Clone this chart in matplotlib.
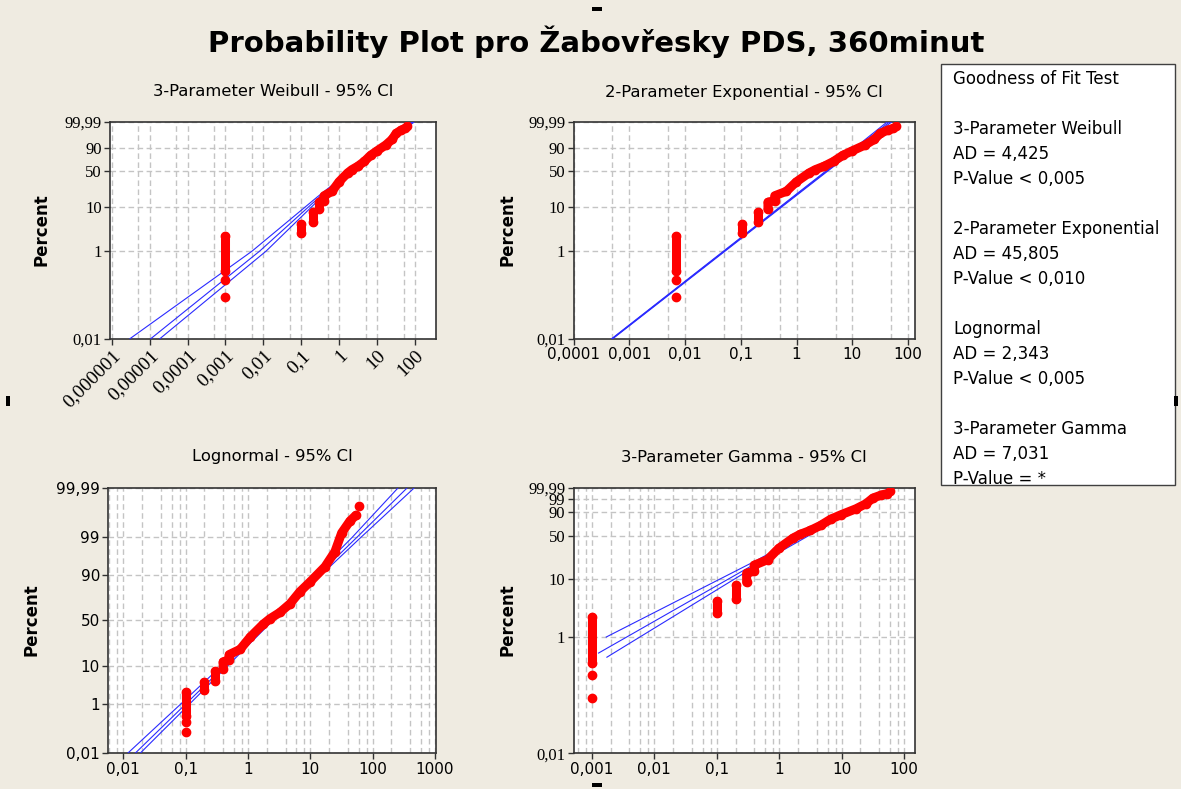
import math
import numpy as np
import matplotlib
matplotlib.use("Agg")
import matplotlib.pyplot as plt
from matplotlib.patches import Rectangle

obs_value = [0.1, 0.1, 0.1, 0.1, 0.2, 0.2, 0.3, 0.3, 0.4, 0.4, 0.5, 0.5, 0.75, 1.08,
             1.76, 2.25, 3.26, 4.72, 6.8, 9.9, 17.2, 24.8, 31.8, 43.0, 53.8, 60.3]
obs_pct = [0.09, 0.22, 0.36, 2.2, 2.6, 4.2, 4.5, 7.8, 8.7, 12.4, 13.5, 17, 21, 32,
           46, 52, 59, 68, 79, 86, 93.4, 97.3, 99.29, 99.73, 99.84, 99.936]
obs_run = [0, 1, 2, 2, 3, 3, 4, 4, 5, 5, 5, 5, 5, 5,
           5, 5, 5, 5, 5, 5, 5, 5, 5, 5, 5, 6]

# thresholds of the 3-/2-parameter fits, gamma shape
thr_weibull = 0.099
thr_expo = 0.093
thr_gamma = 0.099
gamma_shape = 0.58

# fitted lines and 95% CI: log10(x) at given percents
wb_pct = [0.01, 1, 16, 99.99]
wb_fit = [-4.97, -2.10, -0.52, 1.955]
wb_lo = [-5.52, -2.30, -0.58, 1.93]
wb_hi = [-4.73, -1.93, -0.46, 1.985]

ex_pct = [0.01, 50, 99.99]
ex_fit = [-3.305, 0.548, 1.672]
ex_lo = [-3.315, 0.53, 1.63]
ex_hi = [-3.295, 0.565, 1.71]

ln_pct = [0.01, 1, 50, 99, 99.99]
ln_fit = [-1.81, -0.991, 0.377, 1.745, 2.556]
ln_lo = [-1.93, -1.07, 0.35, 1.67, 2.41]
ln_hi = [-1.73, -0.93, 0.40, 1.81, 2.67]

gm_fit_pct = [0.53, 20, 99.99]
gm_fit = [-2.894, -0.305, 1.803]
gm_hi_pct = [1.0, 20.5, 99.99]
gm_hi = [-2.771, -0.36, 1.78]
gm_lo_pct = [0.45, 19.5, 99.99]
gm_lo = [-2.76, -0.26, 1.83]

gof_names = ["3-Parameter Weibull", "2-Parameter Exponential", "Lognormal", "3-Parameter Gamma"]
gof_ad = ["4,425", "45,805", "2,343", "7,031"]
gof_p = ["< 0,005", "< 0,010", "< 0,005", "= *"]

BG = "#EFEBE1"
RED = "#FF0000"
BLUE = "#2a2aff"
GRID = "#c4c4c4"


# ---- probability scales ----
def weibull_fwd(p):
    q = np.clip(np.asarray(p, float) / 100.0, 1e-12, 1 - 1e-12)
    return np.log10(-np.log1p(-q))


def weibull_inv(t):
    t = np.clip(np.asarray(t, float), -30, 3)
    return 100.0 * -np.expm1(-np.power(10.0, t))


_A = [-3.969683028665376e+01, 2.209460984245205e+02, -2.759285104469687e+02,
      1.383577518672690e+02, -3.066479806614716e+01, 2.506628277459239e+00]
_B = [-5.447609879822406e+01, 1.615858368580409e+02, -1.556989798598866e+02,
      6.680131188771972e+01, -1.328068155288572e+01]
_C = [-7.784894002430293e-03, -3.223964580411365e-01, -2.400758277161838e+00,
      -2.549732539343734e+00, 4.374664141464968e+00, 2.938163982698783e+00]
_D = [7.784695709041462e-03, 3.224671290700398e-01, 2.445134137142996e+00,
      3.754408661907416e+00]


def _tail(q):
    num = ((((_C[0] * q + _C[1]) * q + _C[2]) * q + _C[3]) * q + _C[4]) * q + _C[5]
    den = (((_D[0] * q + _D[1]) * q + _D[2]) * q + _D[3]) * q + 1
    return num / den


def normal_fwd(p):
    q = np.clip(np.asarray(p, float) / 100.0, 1e-12, 1 - 1e-12)
    r0 = q - 0.5
    r = r0 * r0
    mid = (((((_A[0] * r + _A[1]) * r + _A[2]) * r + _A[3]) * r + _A[4]) * r + _A[5]) * r0 / \
          (((((_B[0] * r + _B[1]) * r + _B[2]) * r + _B[3]) * r + _B[4]) * r + 1)
    low = _tail(np.sqrt(-2 * np.log(q)))
    high = -_tail(np.sqrt(-2 * np.log1p(-q)))
    return np.where(q < 0.02425, low, np.where(q > 1 - 0.02425, high, mid))


_erfc = np.vectorize(math.erfc, otypes=[float])


def normal_inv(z):
    z = np.clip(np.asarray(z, float), -40, 40)
    return 100.0 * 0.5 * _erfc(-z / math.sqrt(2))


def gamma_p(a, lnx):
    x = np.exp(lnx)
    term = np.full_like(x, 1.0 / a)
    total = term.copy()
    for n in range(1, 260):
        term = term * x / (a + n)
        total = total + term
    return np.exp(a * lnx - x - math.lgamma(a)) * total


_glnx = np.linspace(np.log(1e-40), np.log(40.0), 6000)
_gp = gamma_p(gamma_shape, _glnx)


def gamma_fwd(p):
    q = np.clip(np.asarray(p, float) / 100.0, 1e-15, 1 - 1e-9)
    return np.interp(q, _gp, _glnx) / np.log(10)


def gamma_inv(y):
    y = np.clip(np.asarray(y, float), -39, 1.5)
    return 100.0 * gamma_p(gamma_shape, y * np.log(10))


def fmt(v):
    return np.format_float_positional(v, trim="-").replace(".", ",")


W, H = 1181, 789
fig = plt.figure(figsize=(W / 100, H / 100), dpi=100, facecolor=BG)


def make_axes(l, r, t, b):
    return fig.add_axes([l / W, 1 - b / H, (r - l) / W, (b - t) / H])


def style_axes(ax, scale, xlim, xmaj, xmin, yticks, ylabels, yfont, xfont, xrot=0):
    ax.set_facecolor("white")
    ax.set_xscale("log")
    ax.set_yscale("function", functions=scale)
    ax.set_xticks(xmaj)
    ax.set_xticks(xmin, minor=True)
    if xrot:
        ax.set_xticklabels([fmt(v) for v in xmaj], rotation=xrot, ha="right",
                           rotation_mode="anchor", **xfont)
    else:
        ax.set_xticklabels([fmt(v) for v in xmaj], **xfont)
    ax.set_xticklabels([], minor=True)
    ax.set_yticks(yticks)
    ax.set_yticklabels(ylabels, **yfont)
    ax.yaxis.set_minor_locator(plt.NullLocator())
    ax.set_xlim(*xlim)
    ax.set_ylim(0.01, 99.99)
    ax.tick_params(which="major", direction="out", length=4, width=1, color="#303030", pad=2)
    ax.tick_params(which="minor", length=0)
    ax.grid(True, which="both", axis="x", color=GRID, lw=1.0, ls=(0, (4, 2.5)))
    ax.grid(True, which="major", axis="y", color=GRID, lw=1.0, ls=(0, (4, 2.5)))
    ax.set_axisbelow(True)
    for s in ax.spines.values():
        s.set_color("#333333")
        s.set_linewidth(1.2)


def draw_points(ax, thr):
    xs = np.array(obs_value) - thr
    ps = np.array(obs_pct)
    runs = np.array(obs_run)
    for r in np.unique(runs):
        m = runs == r
        ax.plot(xs[m], ps[m], color=RED, lw=6.5, marker="o", ms=6, mec=RED,
                solid_capstyle="round", zorder=4)


def draw_line(ax, pct, logx):
    ax.plot(np.power(10.0, logx), pct, color=BLUE, lw=0.8, zorder=3)


serif_y = dict(family="Liberation Serif", fontsize=12)
serif_x = dict(family="Liberation Serif", fontsize=14)
sans_t = dict(family="DejaVu Sans", fontsize=11)


def decades(a, b):
    return [10.0 ** k for k in range(a, b + 1)]


# --- Weibull ---
ax1 = make_axes(110, 436, 121.7, 338.7)
style_axes(ax1, (weibull_fwd, weibull_inv), (9.0e-7, 358), decades(-6, 2),
           [5 * v for v in decades(-7, 2)], [0.01, 1, 10, 50, 90, 99.99],
           ["0,01", "1", "10", "50", "90", "99,99"], serif_y, serif_x, xrot=45)
draw_line(ax1, wb_pct, wb_lo)
draw_line(ax1, wb_pct, wb_fit)
draw_line(ax1, wb_pct, wb_hi)
draw_points(ax1, thr_weibull)

# --- Exponential ---
ax2 = make_axes(573.5, 915, 121.7, 338.7)
style_axes(ax2, (weibull_fwd, weibull_inv), (1.0e-4, 133), decades(-4, 2),
           [5 * v for v in decades(-5, 2)], [0.01, 1, 10, 50, 90, 99.99],
           ["0,01", "1", "10", "50", "90", "99,99"], serif_y, sans_t)
draw_line(ax2, ex_pct, ex_lo)
draw_line(ax2, ex_pct, ex_fit)
draw_line(ax2, ex_pct, ex_hi)
draw_points(ax2, thr_expo)

# --- Lognormal ---
ax3 = make_axes(108.3, 436, 487.7, 753.3)
mins = [m * v for v in decades(-3, 3) for m in (2, 4, 6, 8)]
style_axes(ax3, (normal_fwd, normal_inv), (0.00575, 1037), decades(-2, 3), mins,
           [0.01, 1, 10, 50, 90, 99, 99.99],
           ["0,01", "1", "10", "50", "90", "99", "99,99"],
           dict(family="DejaVu Sans", fontsize=11), sans_t)
draw_line(ax3, ln_pct, ln_lo)
draw_line(ax3, ln_pct, ln_fit)
draw_line(ax3, ln_pct, ln_hi)
draw_points(ax3, 0.0)

# --- Gamma ---
ax4 = make_axes(573.5, 915, 487.7, 753.3)
mins = [m * v for v in decades(-4, 2) for m in (2, 4, 6, 8)]
style_axes(ax4, (gamma_fwd, gamma_inv), (5.07e-4, 150), decades(-3, 2), mins,
           [0.01, 1, 10, 50, 90, 99, 99.99],
           ["0,01", "1", "10", "50", "90", "99", "99,99"], serif_y, sans_t)
ax4.plot(np.power(10.0, gm_hi), gm_hi_pct, color=BLUE, lw=0.8, zorder=3)
ax4.plot(np.power(10.0, gm_fit), gm_fit_pct, color=BLUE, lw=0.8, zorder=3)
ax4.plot(np.power(10.0, gm_lo), gm_lo_pct, color=BLUE, lw=0.8, zorder=3)
draw_points(ax4, thr_gamma)


# titles and labels
def ftext(x, y, s, **kw):
    fig.text(x / W, 1 - y / H, s, ha="center", va="center", **kw)


ftext(596, 42, "Probability Plot pro Žabovřesky PDS, 360minut", fontsize=21,
      fontweight="bold", family="DejaVu Sans")
ftext(273, 92, "3-Parameter Weibull - 95% CI", fontsize=11.8, family="DejaVu Sans")
ftext(744, 92, "2-Parameter Exponential - 95% CI", fontsize=11.8, family="DejaVu Sans")
ftext(272, 457, "Lognormal - 95% CI", fontsize=11.8, family="DejaVu Sans")
ftext(744, 457, "3-Parameter Gamma - 95% CI", fontsize=11.8, family="DejaVu Sans")
for (x, y) in [(42, 230), (508, 230), (32, 620), (508, 620)]:
    ftext(x, y, "Percent", rotation=90, fontsize=12, fontweight="bold", family="DejaVu Sans")

# goodness of fit box
fig.patches.append(Rectangle((940.7 / W, 1 - 485 / H), 234 / W, 420.7 / H,
                             transform=fig.transFigure, facecolor="white",
                             edgecolor="#404040", lw=1.0))
gof_lines = ["Goodness of Fit Test", ""]
for name, ad, pv in zip(gof_names, gof_ad, gof_p):
    gof_lines += [name, "AD = " + ad, "P-Value " + pv, ""]
for i, s in enumerate(gof_lines):
    if s:
        fig.text(953 / W, 1 - (79 + 25 * i) / H, s, ha="left", va="center",
                 fontsize=12, family="DejaVu Sans")

# selection handles
for (x, y, w, h) in [(592, 7, 10, 4), (592, 783, 10, 4), (6, 396, 4, 10), (1174, 396, 4, 10)]:
    fig.patches.append(Rectangle((x / W, 1 - (y + h) / H), w / W, h / H,
                                 transform=fig.transFigure, facecolor="black", lw=0))

fig.savefig("out.png", dpi=100, facecolor=BG)
